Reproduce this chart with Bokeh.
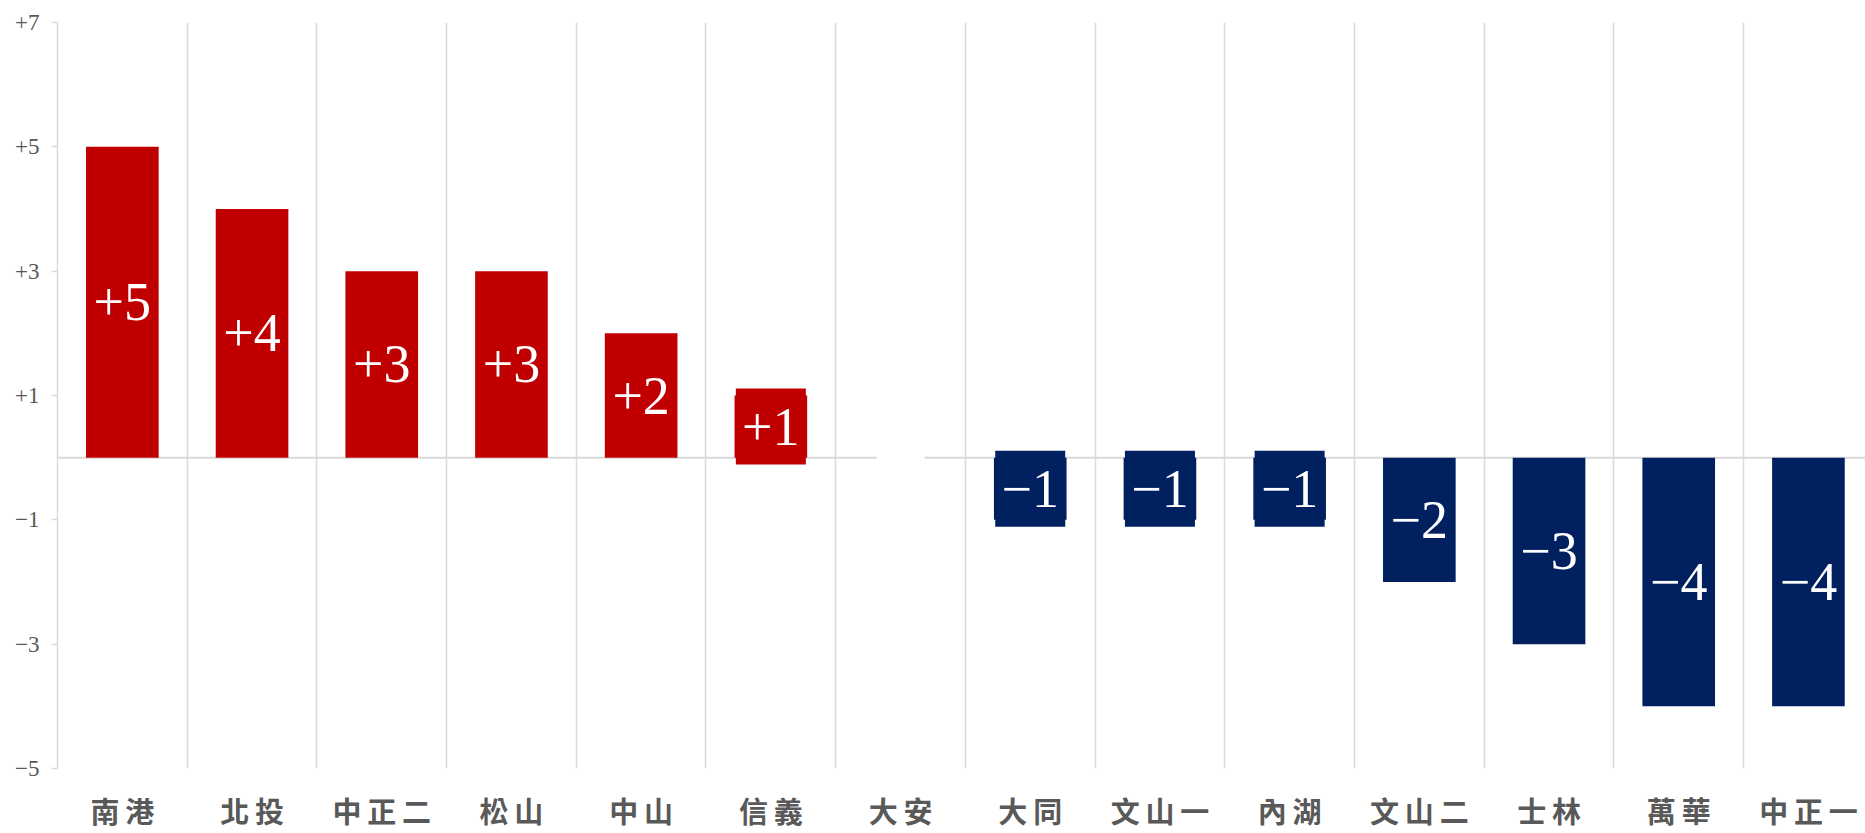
from bokeh.plotting import figure
from bokeh.models import Range1d, FixedTicker, Span, ColumnDataSource
from bokeh.core.properties import value
from bokeh.embed import file_html
from bokeh.resources import INLINE

# ---- data ----
districts = ["南港", "北投", "中正二", "松山", "中山", "信義", "大安",
             "大同", "文山一", "內湖", "文山二", "士林", "萬華", "中正一"]
changes = [5, 4, 3, 3, 2, 1, 0, -1, -1, -1, -2, -3, -4, -4]
y_ticks = [-5, -3, -1, 1, 3, 5, 7]
y_tick_labels = ["−5", "−3", "−1", "+1", "+3", "+5", "+7"]

RED = "#C00000"
NAVY = "#002060"
GRID = "#D9D9D9"
GRAY = "#595959"

def fmt(v):
    if v > 0:
        return f"+{v}"
    if v < 0:
        return f"−{abs(v)}"
    return ""

xs = [i + 0.5 for i in range(len(districts))]
colors = [RED if v > 0 else NAVY for v in changes]
src = ColumnDataSource(dict(
    x=xs, top=changes, color=colors,
    ly=[v / 2 for v in changes], label=[fmt(v) for v in changes],
))

# small label boxes (for bars shorter than the label)
small = [i for i, v in enumerate(changes) if abs(v) <= 1]
box_src = ColumnDataSource(dict(
    x=[xs[i] for i in small],
    y=[changes[i] / 2 for i in small],
    w=[70 if changes[i] != 0 else 48 for i in small],
    h=[76 if changes[i] != 0 else 12 for i in small],
    color=[RED if changes[i] > 0 else (NAVY if changes[i] < 0 else "white") for i in small],
))

p = figure(width=1865, height=833, output_backend="svg", toolbar_location=None,
           x_range=Range1d(0, 13.94), y_range=Range1d(-5, 7),
           min_border_left=57, min_border_right=0, min_border_top=22, min_border_bottom=61)
p.outline_line_color = None
p.background_fill_color = "white"
p.border_fill_color = "white"

# grid
p.ygrid.grid_line_color = None
p.xgrid.ticker = FixedTicker(ticks=list(range(1, len(districts))))
p.xgrid.grid_line_color = GRID
p.xgrid.grid_line_width = 1.5

zero = Span(location=0, dimension="width", line_color=GRID, line_width=2, level="underlay")
p.add_layout(zero)

p.vbar(x="x", top="top", bottom=0, width=0.56, fill_color="color", line_color=None, source=src)
p.rect(x="x", y="y", width="w", height="h", width_units="screen", height_units="screen",
       fill_color="color", line_color=None, source=box_src)
p.text(x="x", y="ly", text="label", source=src, text_color="white",
       text_align="center", text_baseline="middle",
       text_font=value("Liberation Serif"), text_font_size="54px")

# y axis
ya = p.yaxis[0]
ya.ticker = FixedTicker(ticks=y_ticks)
ya.major_label_overrides = {t: l for t, l in zip(y_ticks, y_tick_labels)}
ya.axis_line_color = GRID
ya.axis_line_width = 1.5
ya.major_tick_line_color = GRID
ya.major_tick_line_width = 1.5
ya.major_tick_out = 6
ya.major_tick_in = 0
ya.minor_tick_line_color = None
ya.major_label_text_font = "Liberation Serif"
ya.major_label_text_font_size = "23px"
ya.major_label_text_color = GRAY
ya.major_label_standoff = 12

# x axis
xa = p.xaxis[0]
xa.ticker = FixedTicker(ticks=xs)
xa.major_label_overrides = {x: "\u2009".join(d) for x, d in zip(xs, districts)}
xa.axis_line_color = None
xa.major_tick_line_color = None
xa.minor_tick_line_color = None
xa.major_label_text_font = "Noto Sans CJK TC"
xa.major_label_text_font_style = "bold"
xa.major_label_text_font_size = "29px"
xa.major_label_text_color = GRAY
xa.major_label_standoff = 14

open("out.html", "w").write(file_html(p, INLINE))
